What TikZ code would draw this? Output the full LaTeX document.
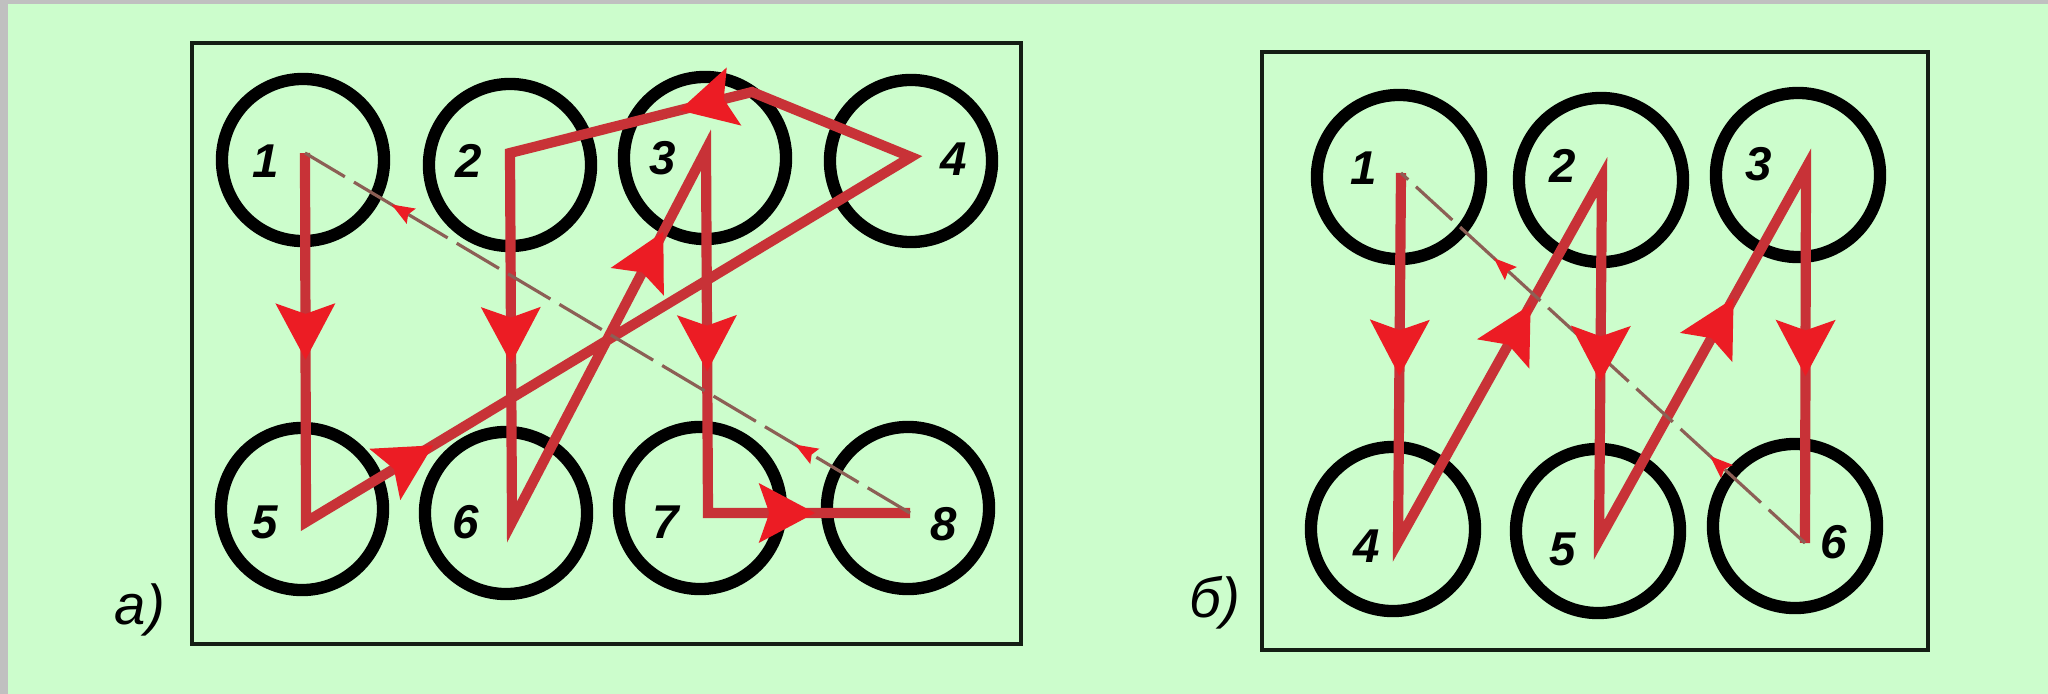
\documentclass[tikz,border=0pt]{standalone}
\usepackage{fontspec}
\setmainfont{Liberation Sans}
\usetikzlibrary{arrows.meta,decorations.markings}
\definecolor{bggreen}{RGB}{204,253,204}
\definecolor{edgegray}{RGB}{192,192,192}
\definecolor{redline}{RGB}{200,50,55}
\definecolor{redhead}{RGB}{236,28,36}
\definecolor{dashcol}{RGB}{140,95,85}
\definecolor{framecol}{RGB}{20,30,20}
\begin{document}
\begin{tikzpicture}[x=0.01cm,y=-0.01cm,
  cyl/.style={circle,draw=black,line width=3.5pt,minimum size=1.62cm,inner sep=0pt},
  cylb/.style={cyl,minimum size=1.64cm},
  num/.style={font=\fontsize{13.5}{15}\selectfont\bfseries\itshape,inner sep=0pt},
  panellabel/.style={font=\fontsize{16}{18}\selectfont\itshape,inner sep=0pt},
  frame/.style={draw=framecol,line width=1.4pt},
  redpath/.style={draw=redline,line width=2.9pt,line join=miter},
  dashpath/.style={draw=dashcol,line width=0.9pt,dash pattern=on 14pt off 3pt},
  bigarrow/.style={decoration={markings,mark=at position #1 with {\arrow{Stealth[length=16pt,width=17pt,inset=3pt,color=redhead]}}},postaction={decorate}},
  smallarrows/.style 2 args={decoration={markings,
      mark=at position #1 with {\arrow{Stealth[length=6.5pt,width=5pt,inset=1pt,color=redhead]}},
      mark=at position #2 with {\arrow{Stealth[length=6.5pt,width=5pt,inset=1pt,color=redhead]}}},postaction={decorate}},
]
\useasboundingbox (0,0) rectangle (2048,694);
\fill[bggreen] (0,0) rectangle (2048,694);
\fill[edgegray] (0,0) rectangle (8,694);
\fill[edgegray] (0,0) rectangle (2048,4);

% ---------- panel a ----------
\draw[frame] (192,43) rectangle (1021,644);
\node[cyl] (ca1) at (303,160) {};
\node[cyl] (ca2) at (510,165) {};
\node[cyl] (ca3) at (705,158) {};
\node[cyl] (ca4) at (911,161) {};
\node[cyl] (ca5) at (302,509) {};
\node[cyl] (ca6) at (506,513) {};
\node[cyl] (ca7) at (700,508) {};
\node[cyl] (ca8) at (908,508) {};

\coordinate (p1) at (305,153);
\coordinate (p5) at (306,522);
\coordinate (p4) at (911,157);
\coordinate (pa) at (752,92);
\coordinate (p2) at (510,153);
\coordinate (p6) at (512,522);
\coordinate (p3) at (706,150);
\coordinate (p7) at (708,513);
\coordinate (p8) at (910,513);

\draw[redpath] (p1) -- (p5) -- (p4) -- (pa) -- (p2) -- (p6) -- (p3) -- (p7) -- (p8);
\draw[dashpath] (p8) -- (p1);
\path[smallarrows={0.19}{0.857}] (p8) -- (p1);
\path[bigarrow=0.56] (p1) -- (p5);
\path[bigarrow=0.21] (p5) -- (p4);
\path[bigarrow=0.3] (pa) -- (p2);
\path[bigarrow=0.57] (p2) -- (p6);
\path[bigarrow=0.78] (p6) -- (p3);
\path[bigarrow=0.61] (p3) -- (p7);
\path[bigarrow=0.53] (p7) -- (p8);

\node[num] (la1) at (266,161) {1};
\node[num] (la2) at (469,161) {2};
\node[num] (la3) at (663,158) {3};
\node[num] (la4) at (954,159) {4};
\node[num] (la5) at (265,522) {5};
\node[num] (la6) at (466,522) {6};
\node[num] (la7) at (666,522) {7};
\node[num] (la8) at (944,524) {8};
\node[panellabel] (lbla) at (140,610) {a)};

% ---------- panel b ----------
\draw[frame] (1262,52) rectangle (1928,650);
\node[cylb] (cb1) at (1399,177) {};
\node[cylb] (cb2) at (1601,180) {};
\node[cylb] (cb3) at (1798,175) {};
\node[cylb] (cb4) at (1393,529) {};
\node[cylb] (cb5) at (1598,531) {};
\node[cylb] (cb6) at (1795,526) {};

\coordinate (q1) at (1401,173);
\coordinate (q4) at (1398,542);
\coordinate (q2) at (1602,177);
\coordinate (q5) at (1599,540);
\coordinate (q3) at (1806,168);
\coordinate (q6) at (1805,543);

\draw[redpath] (q1) -- (q4) -- (q2) -- (q5) -- (q3) -- (q6);
\draw[dashpath] (q6) -- (q1);
\path[smallarrows={0.235}{0.77}] (q6) -- (q1);
\path[bigarrow=0.55] (q1) -- (q4);
\path[bigarrow=0.65] (q4) -- (q2);
\path[bigarrow=0.565] (q2) -- (q5);
\path[bigarrow=0.65] (q5) -- (q3);
\path[bigarrow=0.555] (q3) -- (q6);

\node[num] (lb1) at (1364,168) {1};
\node[num] (lb2) at (1563,166) {2};
\node[num] (lb3) at (1759,164) {3};
\node[num] (lb4) at (1367,546) {4};
\node[num] (lb5) at (1563,549) {5};
\node[num] (lb6) at (1834,542) {6};
\node[panellabel] (lblb) at (1215,603) {б)};
\end{tikzpicture}
\end{document}
